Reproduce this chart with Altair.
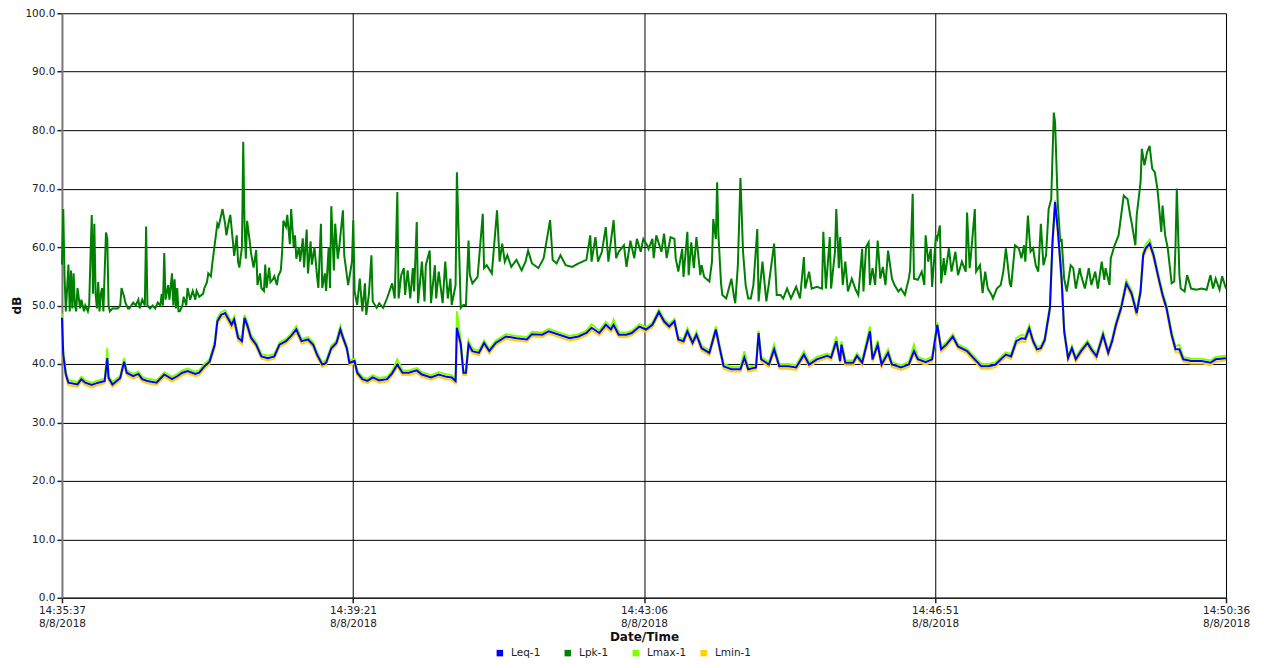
import altair as alt
import pandas as pd

# ---- x axis (seconds after 14:35:37 on 8/8/2018) ----
tick_seconds = [0, 224.75, 449.5, 674.25, 899]
tick_time_labels = ["14:35:37", "14:39:21", "14:43:06", "14:46:51", "14:50:36"]
tick_date_label = "8/8/2018"
y_ticks = [0, 10, 20, 30, 40, 50, 60, 70, 80, 90, 100]

SERIES = ["Leq-1", "Lpk-1", "Lmax-1", "Lmin-1"]
COLORS = ["#0000FF", "#008000", "#80FF00", "#FFD200"]

# ---- Lpk-1 (peak) ----
lpk_t = [
    0, 1, 2, 3, 4, 5, 6, 7, 8, 9,
    10, 11, 12, 14, 15, 17, 18, 20, 21, 22,
    23, 24, 25, 26, 27, 28, 29, 30, 31, 32,
    34, 35, 36, 37, 39, 41, 43, 45, 46, 48,
    49, 51, 52, 55, 57, 59, 60, 62, 64, 65,
    66, 68, 70, 72, 74, 76, 77, 78, 79, 80,
    82, 83, 85, 86, 87, 88, 89, 90, 91, 93,
    94, 96, 97, 99, 101, 103, 104, 106, 109, 110,
    112, 113, 115, 116, 118, 120, 121, 123, 124, 126,
    127, 129, 130, 132, 133, 135, 136, 137, 139, 140,
    141, 142, 143, 145, 146, 148, 150, 151, 153, 154,
    156, 157, 158, 160, 161, 163, 164, 166, 167, 169,
    170, 171, 173, 174, 176, 177, 179, 180, 181, 183,
    184, 186, 187, 189, 190, 192, 193, 195, 197, 198,
    200, 201, 203, 204, 206, 207, 208, 210, 211, 213,
    214, 217, 218, 221, 224, 225, 226, 228, 230, 232,
    234, 235, 237, 239, 240, 243, 245, 248, 251, 255,
    257, 259, 260, 262, 264, 265, 267, 269, 271, 272,
    274, 275, 278, 280, 281, 284, 285, 288, 289, 291,
    294, 296, 298, 300, 301, 304, 305, 308, 310, 312,
    314, 315, 317, 321, 325, 326, 328, 332, 336, 338,
    340, 342, 344, 347, 351, 355, 358, 360, 363, 368,
    372, 377, 379, 382, 385, 389, 394, 399, 405, 408,
    409, 412, 414, 417, 420, 422, 426, 428, 430, 434,
    436, 439, 442, 444, 447, 449, 452, 453, 456, 457,
    459, 463, 465, 467, 470, 473, 474, 476, 479, 480,
    483, 484, 486, 488, 490, 493, 494, 496, 500, 502,
    503, 505, 506, 507, 509, 510, 513, 517, 519, 520,
    522, 524, 526, 528, 530, 532, 534, 537, 538, 541,
    544, 546, 550, 552, 555, 557, 560, 563, 567, 570,
    573, 574, 577, 579, 583, 587, 588, 590, 593, 594,
    597, 598, 600, 601, 603, 605, 607, 610, 613, 615,
    618, 619, 621, 623, 624, 626, 628, 630, 632, 634,
    636, 638, 641, 643, 646, 648, 651, 654, 655, 657,
    658, 661, 664, 666, 667, 669, 671, 672, 675, 676,
    678, 679, 681, 682, 685, 687, 690, 692, 695, 698,
    699, 701, 702, 705, 706, 709, 711, 713, 715, 718,
    719, 722, 725, 727, 729, 732, 733, 736, 739, 741,
    743, 744, 746, 748, 750, 752, 754, 756, 758, 760,
    762, 764, 766, 767, 769, 771, 772, 774, 776, 779,
    781, 783, 786, 787, 790, 793, 795, 798, 800, 803,
    805, 806, 809, 810, 813, 816, 818, 820, 823, 825,
    826, 829, 830, 833, 834, 836, 838, 840, 842, 844,
    846, 847, 849, 850, 852, 854, 857, 859, 860, 861,
    863, 864, 867, 869, 872, 876, 880, 884, 887, 889,
    891, 894, 896, 899,
]
lpk_v = [
    57, 66.5, 55, 49, 53, 57, 49, 56, 49.5, 55.5,
    50, 49, 53, 49.5, 51, 49, 50, 49, 50, 58,
    65.5, 52, 64, 52, 49.5, 54, 49, 52, 53, 49,
    62.5, 61.5, 50, 49, 49.5, 49.5, 49.5, 50, 53, 51.5,
    50.5, 49.5, 49.5, 50.5, 50, 51, 49.5, 51, 50, 63.5,
    50, 49.5, 50, 49.5, 50.5, 50, 52, 50, 59, 51,
    53.5, 51, 55.5, 50, 54.5, 49.5, 53, 49, 49, 50,
    51.5, 50, 53, 51, 52.5, 51, 52.5, 51.5, 52, 53,
    54, 55.5, 55, 57, 60.5, 64, 63.5, 65.5, 66.5, 64,
    62, 64.5, 65.5, 61, 58.5, 62, 57.5, 56.5, 60, 78,
    64, 58, 64.5, 61, 59, 56.5, 59.5, 53.5, 55.5, 53,
    52.5, 57, 53, 56.5, 54, 54.5, 55, 53.5, 55, 56,
    59, 64.5, 63.5, 65.5, 60.5, 66.5, 60, 62, 58, 60,
    57.5, 61.5, 56.5, 63, 55.5, 61, 57, 60, 55, 53,
    64, 53, 55.5, 52.5, 60, 53, 67, 56, 64, 58,
    59.7, 66.3, 58.6, 53.5, 57.5, 64.6, 52.4, 50.1, 54.6, 49,
    53.8, 48.4, 51.8, 58.6, 50.7, 49.6, 50.4, 49.6, 51.2, 53.8,
    51.2, 69.4, 51.2, 55.2, 56.4, 51.8, 56, 51.2, 56.4, 52.4,
    64.3, 50.4, 57.5, 50.7, 56.9, 59.4, 50.4, 56.9, 51.2, 55.8,
    50.4, 57.5, 51.2, 54.6, 50.1, 53.5, 72.8, 49.6, 50.1, 50.1,
    61.1, 55.2, 53.8, 54.9, 65.7, 56.4, 56.9, 55.5, 66.3, 57.5,
    60.6, 57.5, 58.6, 56.6, 57.8, 56, 57.5, 59.4, 57.2, 56.4,
    58.1, 64.6, 57.8, 57.2, 58.6, 56.9, 56.6, 57.2, 57.8, 62,
    57.5, 61.7, 57.5, 59.2, 63.4, 57.5, 64.6, 58.1, 59.2, 60.3,
    56.6, 61.1, 58.1, 61.4, 59.2, 61.4, 60.3, 59.7, 61.4, 58.1,
    62, 59.2, 62.3, 58.1, 61.7, 61.4, 58.1, 55.8, 59.7, 54.9,
    62.6, 55.2, 60.8, 56.4, 61.7, 55.2, 56.9, 54.9, 54.1, 57.5,
    64.8, 61.4, 71.1, 62, 53.8, 51.8, 51.2, 54.6, 51.5, 50.4,
    56.9, 71.8, 59.2, 53.5, 51.2, 51.2, 53.5, 63.1, 50.7, 57.5,
    50.7, 53.8, 60.6, 51.8, 51.8, 51.2, 52.9, 51.2, 53.2, 51.2,
    58.3, 52.9, 55.8, 52.9, 53.2, 52.9, 62.6, 52.9, 61.7, 52.9,
    59.2, 66.5, 56.4, 61.7, 53.5, 57.5, 52.4, 54.6, 52.7, 51.8,
    59.7, 52.4, 60, 60.8, 53.5, 56.4, 53.5, 61.1, 54.6, 56.6,
    53.5, 59.4, 54.6, 53.5, 52.4, 52.9, 51.8, 54.6, 56, 69.1,
    54.6, 54.4, 55.8, 53.5, 62, 57.5, 59.7, 53.2, 62, 61.4,
    63.7, 53.8, 58.1, 55.2, 59.8, 55.8, 59.2, 55.2, 57.5, 55.8,
    65.9, 56.4, 58.6, 66.5, 55.8, 56.9, 52.1, 55.8, 52.9, 51.8,
    51.2, 52.9, 53.5, 55.8, 59.8, 53.8, 53.2, 60.3, 59.8, 58.1,
    60.3, 57.5, 65.4, 59.2, 59.8, 56.9, 55.8, 64, 56.9, 58.6,
    66.5, 68.2, 83, 81.3, 67.7, 60.9, 61.4, 54.6, 52.4, 56.9,
    56.4, 52.9, 56.4, 55.2, 52.9, 56.4, 53.5, 55.8, 52.9, 57.5,
    54.4, 56.4, 53.5, 58.1, 60.3, 62, 65.4, 68.8, 68.2, 65.4,
    64.3, 60.3, 65.4, 71.1, 76.8, 74, 76.2, 77.3, 73.4, 72.8,
    70, 67.7, 62.6, 67.1, 62, 59.8, 53.8, 54.1, 60.3, 70,
    55.2, 52.9, 52.4, 55.2, 52.9, 52.7, 52.9, 52.7, 55.2, 52.9,
    54.6, 52.7, 55, 52.9,
]

# ---- Leq-1, Lmax-1, Lmin-1 (shared sample times) ----
leq_t = [
    0, 1, 3, 5, 12, 15, 18, 23, 28, 33,
    35, 36, 39, 45, 48, 50, 55, 59, 62, 66,
    73, 79, 85, 89, 93, 97, 103, 106, 110, 114,
    118, 120, 123, 126, 128, 131, 133, 136, 139, 141,
    143, 146, 150, 154, 159, 164, 168, 173, 177, 181,
    185, 190, 194, 197, 201, 204, 208, 212, 215, 217,
    220, 222, 226, 228, 232, 236, 240, 245, 251, 255,
    259, 263, 268, 274, 278, 285, 291, 297, 301, 304,
    305, 308, 310, 312, 314, 317, 322, 326, 330, 335,
    343, 351, 359, 363, 371, 376, 384, 392, 399, 405,
    409, 415, 420, 424, 426, 430, 436, 440, 446, 451,
    456, 461, 465, 469, 473, 476, 480, 483, 487, 490,
    494, 500, 505, 508, 511, 517, 524, 527, 530, 536,
    538, 540, 546, 550, 554, 561, 567, 573, 577, 583,
    591, 594, 598, 601, 602, 605, 611, 614, 618, 624,
    626, 630, 633, 638, 641, 648, 654, 658, 661, 667,
    672, 676, 679, 683, 688, 692, 699, 704, 710, 716,
    721, 726, 729, 733, 737, 741, 744, 747, 750, 753,
    756, 759, 763, 765, 767, 769, 772, 774, 777, 780,
    783, 787, 792, 795, 799, 804, 808, 811, 814, 818,
    822, 826, 830, 833, 835, 837, 840, 843, 847, 850,
    853, 857, 860, 863, 866, 872, 880, 887, 891, 899,
]
leq_v = [
    47.9, 41.6, 38.2, 36.8, 36.5, 37.4, 36.8, 36.4, 36.8, 37.1,
    41.0, 37.6, 36.5, 37.6, 40.4, 38.5, 37.9, 38.3, 37.4, 37.1,
    36.8, 38.2, 37.4, 37.9, 38.5, 38.8, 38.3, 38.5, 39.6, 40.4,
    43.3, 47.3, 48.4, 48.7, 47.9, 46.7, 47.6, 44.5, 43.9, 47.9,
    46.7, 44.5, 43.3, 41.3, 41.0, 41.3, 43.3, 43.9, 44.8, 45.9,
    43.9, 44.2, 43.3, 41.6, 39.9, 40.2, 42.7, 43.6, 45.9, 44.5,
    42.7, 40.2, 40.5, 38.5, 37.4, 37.1, 37.7, 37.2, 37.4, 38.4,
    39.9, 38.5, 38.5, 38.9, 38.2, 37.7, 38.2, 37.8, 37.7, 37.1,
    46.2, 43.4, 38.5, 38.5, 43.4, 42.2, 41.9, 43.6, 42.2, 43.6,
    44.7, 44.4, 44.2, 45.1, 45.0, 45.6, 45.0, 44.4, 44.7, 45.3,
    46.2, 45.3, 46.7, 45.9, 46.7, 45.0, 45.0, 45.3, 46.4, 45.9,
    46.7, 48.9, 47.3, 46.4, 47.3, 44.2, 43.9, 45.6, 43.6, 45.0,
    42.7, 41.9, 45.9, 42.7, 39.6, 39.1, 39.1, 41.1, 39.1, 39.4,
    45.3, 40.8, 39.9, 42.5, 39.6, 39.6, 39.4, 41.6, 39.9, 40.8,
    41.4, 41.1, 43.9, 40.5, 43.3, 40.2, 40.2, 41.4, 40.2, 45.6,
    40.8, 43.3, 39.9, 41.9, 39.9, 39.4, 39.9, 42.2, 40.8, 40.3,
    40.8, 46.7, 42.5, 43.3, 44.7, 43.0, 42.2, 41.0, 39.6, 39.6,
    39.9, 41.0, 41.6, 41.3, 43.9, 44.4, 44.3, 46.1, 43.9, 42.5,
    42.7, 44.1, 49.6, 60.9, 67.7, 63.2, 54.6, 45.6, 41.0, 42.7,
    40.8, 42.2, 43.6, 42.5, 41.3, 45.0, 41.9, 43.9, 46.7, 49.6,
    53.8, 52.1, 48.7, 52.4, 58.6, 59.8, 60.6, 58.6, 54.6, 51.8,
    49.6, 45.0, 42.5, 42.5, 40.8, 40.5, 40.5, 40.2, 40.8, 41.0,
]
lmax_v = [
    48.6, 42.3, 38.7, 37.2, 36.9, 37.8, 37.2, 36.8, 37.2, 37.5,
    42.7, 38.0, 36.9, 38.0, 41.0, 38.9, 38.3, 38.7, 37.8, 37.5,
    37.2, 38.6, 37.8, 38.3, 38.9, 39.2, 38.7, 38.9, 40.0, 40.8,
    43.8, 47.8, 48.9, 49.2, 48.4, 47.2, 48.1, 45.0, 44.4, 48.4,
    47.2, 45.0, 43.7, 41.7, 41.4, 41.7, 43.7, 44.3, 45.2, 46.5,
    44.3, 44.6, 43.7, 42.0, 40.3, 40.6, 43.1, 44.0, 46.5, 44.9,
    43.1, 40.6, 40.9, 38.9, 37.8, 37.5, 38.1, 37.6, 37.8, 38.8,
    40.8, 38.9, 38.9, 39.3, 38.6, 38.1, 38.6, 38.2, 38.1, 37.5,
    49.0, 44.0, 38.9, 38.9, 44.0, 42.6, 42.3, 44.0, 42.6, 44.0,
    45.1, 44.8, 44.6, 45.5, 45.4, 46.0, 45.4, 44.8, 45.1, 45.7,
    46.8, 45.7, 47.2, 46.3, 47.6, 45.4, 45.4, 45.7, 46.8, 46.3,
    47.1, 49.3, 47.7, 46.8, 47.7, 44.6, 44.3, 46.1, 44.0, 45.5,
    43.1, 42.3, 46.4, 43.1, 40.0, 39.5, 39.5, 42.2, 39.5, 39.8,
    45.7, 41.2, 40.3, 43.3, 40.0, 40.0, 39.8, 42.2, 40.3, 41.2,
    41.8, 41.5, 44.7, 40.9, 43.9, 40.6, 40.6, 41.8, 40.6, 46.4,
    41.2, 44.0, 40.3, 42.5, 40.3, 39.8, 40.3, 43.3, 41.2, 40.7,
    41.2, 47.1, 42.9, 43.7, 45.1, 43.4, 42.6, 41.4, 40.0, 40.0,
    40.3, 41.4, 42.0, 41.7, 44.4, 45.0, 44.8, 46.6, 44.3, 42.9,
    43.1, 44.5, 50.1, 61.4, 68.0, 63.7, 55.1, 46.1, 41.4, 43.1,
    41.2, 42.6, 44.0, 42.9, 41.7, 45.5, 42.3, 44.3, 47.2, 50.1,
    54.3, 52.6, 49.2, 52.9, 59.1, 60.5, 61.3, 59.1, 55.1, 52.3,
    50.1, 45.5, 43.0, 43.3, 41.2, 40.9, 40.9, 40.6, 41.2, 41.4,
]
lmin_v = [
    47.2, 41.0, 37.8, 36.4, 36.1, 37.0, 36.4, 36.0, 36.4, 36.7,
    40.4, 37.2, 36.1, 37.2, 39.9, 38.1, 37.5, 37.9, 37.0, 36.7,
    36.4, 37.8, 37.0, 37.5, 38.1, 38.4, 37.9, 38.1, 39.2, 40.0,
    42.8, 46.8, 47.9, 48.2, 47.4, 46.2, 47.1, 44.0, 43.4, 47.4,
    46.2, 44.0, 42.9, 40.9, 40.6, 40.9, 42.9, 43.5, 44.4, 45.4,
    43.5, 43.8, 42.9, 41.2, 39.5, 39.8, 42.3, 43.2, 45.4, 44.1,
    42.3, 39.8, 40.1, 38.1, 37.0, 36.7, 37.3, 36.8, 37.0, 38.0,
    39.5, 38.1, 38.1, 38.5, 37.8, 37.3, 37.8, 37.4, 37.3, 36.7,
    45.6, 42.8, 38.1, 38.1, 42.8, 41.8, 41.5, 43.2, 41.8, 43.2,
    44.3, 44.0, 43.8, 44.7, 44.6, 45.2, 44.6, 44.0, 44.3, 44.9,
    45.7, 44.9, 46.2, 45.5, 46.2, 44.6, 44.6, 44.9, 46.0, 45.5,
    46.3, 48.5, 46.9, 46.0, 46.9, 43.8, 43.5, 45.1, 43.2, 44.6,
    42.3, 41.5, 45.4, 42.3, 39.2, 38.7, 38.7, 40.6, 38.7, 39.0,
    44.8, 40.4, 39.5, 42.0, 39.2, 39.2, 39.0, 41.1, 39.5, 40.4,
    41.0, 40.7, 43.4, 40.1, 42.8, 39.8, 39.8, 41.0, 39.8, 45.1,
    40.4, 42.8, 39.5, 41.4, 39.5, 39.0, 39.5, 41.7, 40.4, 39.9,
    40.4, 46.2, 42.1, 42.9, 44.3, 42.6, 41.8, 40.6, 39.2, 39.2,
    39.5, 40.6, 41.2, 40.9, 43.4, 43.9, 43.8, 45.6, 43.5, 42.1,
    42.3, 43.7, 49.0, 60.3, 67.3, 62.6, 54.0, 45.1, 40.6, 42.3,
    40.4, 41.8, 43.2, 42.1, 40.9, 44.5, 41.5, 43.5, 46.2, 49.1,
    53.3, 51.6, 48.2, 51.9, 58.1, 59.3, 60.1, 58.1, 54.1, 51.3,
    49.1, 44.5, 42.0, 42.0, 40.4, 40.1, 40.1, 39.8, 40.4, 40.6,
]

frames = [
    pd.DataFrame({"t": lpk_t, "dB": lpk_v, "series": "Lpk-1"}),
    pd.DataFrame({"t": leq_t, "dB": lmin_v, "series": "Lmin-1"}),
    pd.DataFrame({"t": leq_t, "dB": lmax_v, "series": "Lmax-1"}),
    pd.DataFrame({"t": leq_t, "dB": leq_v, "series": "Leq-1"}),
]
df = pd.concat(frames, ignore_index=True)

FONT = "DejaVu Sans"
times_js = "[" + ",".join("'%s'" % s for s in tick_time_labels) + "]"
label_expr = "[%s[round(datum.value / 224.75)], '%s']" % (times_js, tick_date_label)

x_enc = alt.X(
    "t:Q",
    scale=alt.Scale(domain=[0, 899], nice=False, zero=False),
    axis=alt.Axis(
        values=tick_seconds,
        labelExpr=label_expr,
        title="Date/Time",
        titleFont=FONT, titleFontSize=12, titleFontWeight="bold", titleColor="#111",
        titleY=34, titleBaseline="top",
        labelFont=FONT, labelFontSize=10.5, labelColor="#222",
        labelLineHeight=13, labelPadding=3, labelAlign="center", labelOverlap=False,
        grid=True, gridColor="#000000", gridWidth=1, gridOpacity=1,
        domainColor="#222222", domainWidth=1.5,
        tickColor="#222222", tickSize=5, tickWidth=1.5,
    ),
)
y_enc = alt.Y(
    "dB:Q",
    scale=alt.Scale(domain=[0, 100], nice=False),
    axis=alt.Axis(
        values=y_ticks,
        format=".1f",
        title="dB",
        titleFont=FONT, titleFontSize=12, titleFontWeight="bold", titleColor="#111",
        titleX=-45, titleY=292, titleAngle=-90, titleAlign="center", titleBaseline="middle",
        labelFont=FONT, labelFontSize=10.5, labelColor="#222", labelPadding=2,
        grid=True, gridColor="#000000", gridWidth=1, gridOpacity=1,
        domainColor="#7a7a7a", domainWidth=2,
        tickColor="#222222", tickSize=5, tickWidth=1.5,
    ),
)
color_enc = alt.Color(
    "series:N",
    scale=alt.Scale(domain=SERIES, range=COLORS),
    legend=alt.Legend(
        title=None, orient="none", direction="horizontal",
        legendX=433, legendY=635, columns=4, gridAlign="all", columnPadding=8,
        symbolType="square", symbolSize=9, symbolStrokeWidth=3.5, symbolOpacity=1,
        labelFont=FONT, labelFontSize=10.5, labelColor="#222", labelOffset=6,
    ),
)

base = alt.Chart(df).encode(x=x_enc, y=y_enc, color=color_enc)
draw_order = ["Lpk-1", "Lmin-1", "Lmax-1", "Leq-1"]
layers = [
    base.transform_filter(alt.datum.series == s).mark_line(strokeWidth=2, interpolate="linear")
    for s in draw_order
]

chart = (
    alt.layer(*layers)
    .properties(
        width=1165, height=585,
        autosize=alt.AutoSizeParams(type="none"),
        padding={"left": 54, "top": 5, "right": 30, "bottom": 68},
        background="white",
    )
    .configure_view(stroke="transparent")
)

chart.save("out.html", embed_options={"renderer": "svg", "actions": False})
